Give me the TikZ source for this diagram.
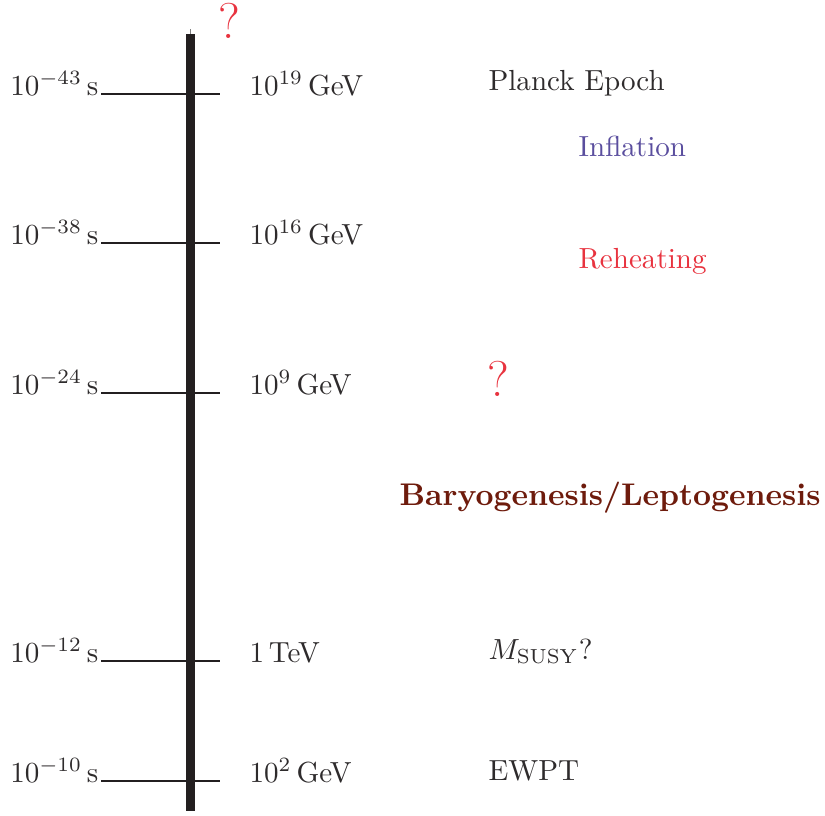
\documentclass[tikz,border=0pt]{standalone}
\usepackage{xcolor}
\definecolor{ink}{HTML}{2E2B2C}
\definecolor{barc}{HTML}{231F20}
\definecolor{infl}{HTML}{5A4E9E}
\definecolor{reh}{HTML}{E8333F}
\definecolor{baryo}{HTML}{6E1B0C}
\begin{document}
\begin{tikzpicture}[x=0.344pt,y=-0.344pt,
  lbl/.style={inner sep=0pt,text=ink,font=\fontsize{10pt}{12pt}\selectfont},
  left lbl/.style={lbl,anchor=base east},
  right lbl/.style={lbl,anchor=base west},
  qmark/.style={inner sep=0pt,text=reh,anchor=base west,font=\LARGE},
  tick/.style={draw=barc,line width=0.7pt}]
\useasboundingbox (0,0) rectangle (825,815);
% axis bar
\fill[barc] (186,34) rectangle (195,811);
\coordinate (topA) at (190.5,29);
\coordinate (topB) at (190.5,34);
\draw[gray,line width=0.25pt] (topA) -- (topB);
\node[qmark] (q1) at (218,38) {?};
% ticks and labels
\foreach \y/\t/\e/\n in {94/{$10^{-43}\,$s}/{$10^{19}\,$GeV}/a,
                          243/{$10^{-38}\,$s}/{$10^{16}\,$GeV}/b,
                          393/{$10^{-24}\,$s}/{$10^{9}\,$GeV}/c,
                          661/{$10^{-12}\,$s}/{$1\,$TeV}/d,
                          781/{$10^{-10}\,$s}/{$10^{2}\,$GeV}/e}{
  \coordinate (tl\n) at (101,\y);
  \coordinate (tr\n) at (220,\y);
  \draw[tick] (tl\n) -- (tr\n);
  \node[left lbl] (t\n) at (99,\y+1) {\t};
  \node[right lbl] (en\n) at (249,\y+1) {\e};
}
% events
\node[right lbl] (planck) at (488,90) {Planck Epoch};
\node[right lbl,text=infl] (infl) at (578,156) {Inflation};
\node[right lbl,text=reh] (reh) at (578,268) {Reheating};
\node[qmark] (q2) at (487,396) {?};
\node[right lbl,text=baryo,font=\fontsize{10.77pt}{13pt}\selectfont\bfseries] (baryo) at (399,505) {Baryogenesis/Leptogenesis};
\node[right lbl] (msusy) at (488,659) {$M_{\mathrm{SUSY}}$?};
\node[right lbl] (ewpt) at (488,780) {EWPT};
\end{tikzpicture}
\end{document}
